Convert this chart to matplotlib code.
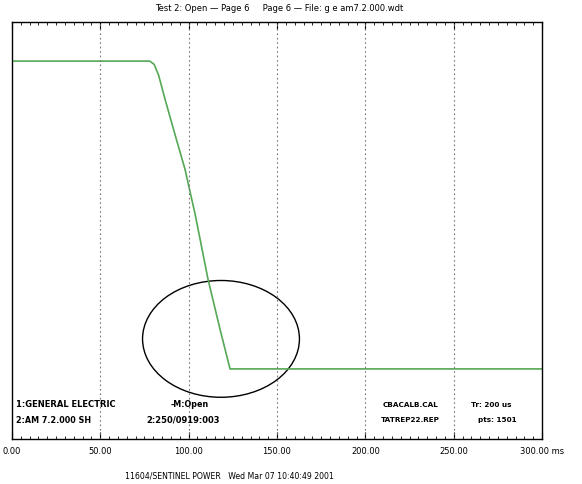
import matplotlib
matplotlib.use("Agg")
import matplotlib.pyplot as plt
import matplotlib.transforms as mtrans
from matplotlib.patches import Ellipse
from matplotlib.ticker import MultipleLocator

# trace (time in ms, relative level 0..1)
t_ms = [0.0, 78.0, 80.5, 83.0, 86.6, 92.2, 97.9, 103.6, 110.9, 117.7, 123.4, 300.0]
level = [0.906, 0.906, 0.898, 0.872, 0.815, 0.731, 0.647, 0.540, 0.384, 0.264, 0.168, 0.168]

xticks = [0, 50, 100, 150, 200, 250, 300]
xlabels = ["0.00", "50.00", "100.00", "150.00", "200.00", "250.00", "300.00 ms"]

title = "Test 2: Open \u2014 Page 6     Page 6 \u2014 File: g e am7.2.000.wdt"
footer = "11604/SENTINEL POWER   Wed Mar 07 10:40:49 2001"

# annotation circle (centre, width, height in data units)
ring = (118.3, 0.24, 88.8, 0.28)

fig = plt.figure(figsize=(5.82, 4.85), dpi=100)
ax = fig.add_axes([0.0206, 0.0928, 0.9107, 0.86])

ax.plot(t_ms, level, color="#55a855", lw=1.2)
ax.add_patch(Ellipse((ring[0], ring[1]), ring[2], ring[3], fill=False,
                     edgecolor="black", lw=1.0))

for x in xticks[1:-1]:
    ax.axvline(x, color="#777777", ls=(0, (1.5, 2.5)), lw=0.8)

ax.set_xlim(0, 300)
ax.set_ylim(0, 1)
ax.set_yticks([])
ax.set_xticks(xticks)
ax.set_xticklabels(xlabels, fontsize=6)
labs = ax.get_xticklabels()
for i, lab in enumerate(labs):
    dx = 7 if i == 0 else 4
    lab.set_transform(lab.get_transform()
                      + mtrans.ScaledTranslation(dx / 100, 0, fig.dpi_scale_trans))
ax.xaxis.set_minor_locator(MultipleLocator(5))
ax.tick_params(axis="x", which="both", direction="in", top=True, pad=5)
ax.tick_params(axis="x", which="major", length=5, width=0.8)
ax.tick_params(axis="x", which="minor", length=2.5, width=0.6)
for s in ax.spines.values():
    s.set_linewidth(1.0)

info = [
    (2, 0.085, "1:GENERAL ELECTRIC", 6.0),
    (2, 0.047, "2:AM 7.2.000 SH", 5.8),
    (90, 0.085, "-M:Open", 5.8),
    (76, 0.047, "2:250/0919:003", 6.0),
    (210, 0.085, "CBACALB.CAL", 5.2),
    (209, 0.047, "TATREP22.REP", 5.2),
    (260, 0.085, "Tr: 200 us", 5.2),
    (264, 0.047, "pts: 1501", 5.2),
]
for x, y, s, fs in info:
    ax.text(x, y, s, fontsize=fs, fontweight="bold", va="center", ha="left")

fig.text(0.48, 0.983, title, fontsize=6, ha="center", va="center")
fig.text(0.395, 0.018, footer, fontsize=5.6, ha="center", va="center")

fig.savefig("out.png", dpi=100)
